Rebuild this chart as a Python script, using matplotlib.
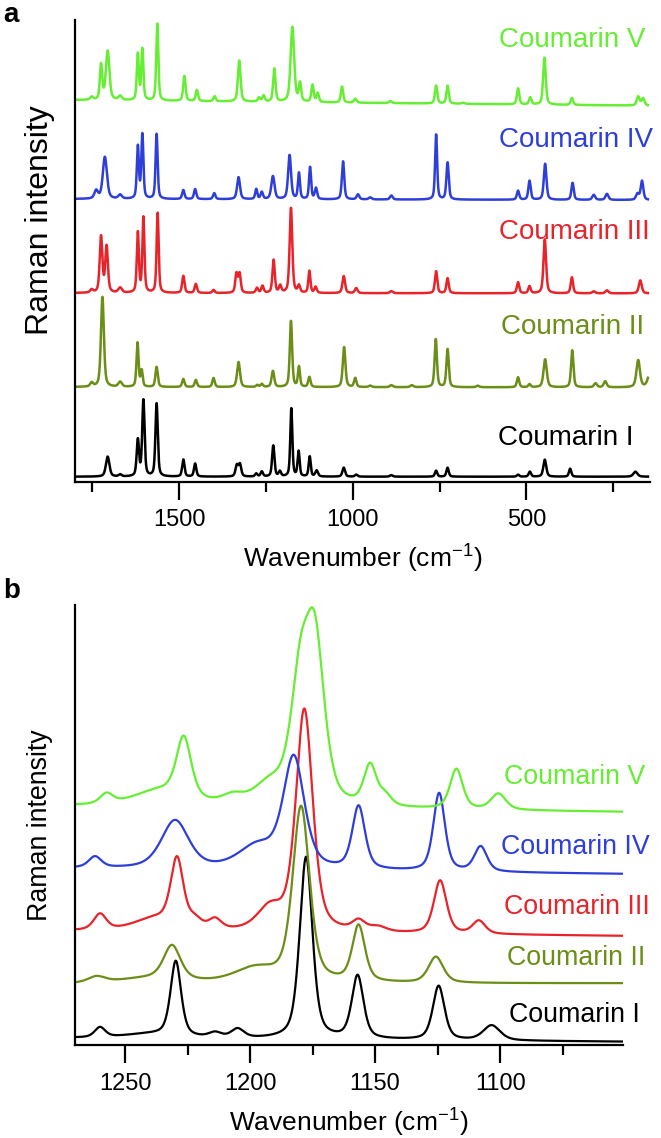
import numpy as np
import matplotlib
matplotlib.use("Agg")
import matplotlib.pyplot as plt
from matplotlib.ticker import MultipleLocator

plt.rcParams['font.family'] = ['Liberation Sans', 'DejaVu Sans']
plt.rcParams['mathtext.fontset'] = 'custom'
plt.rcParams['mathtext.rm'] = 'Liberation Sans'
plt.rcParams['mathtext.it'] = 'Liberation Sans'
plt.rcParams['mathtext.default'] = 'regular'

# ---------------- data ----------------
names = ["Coumarin I", "Coumarin II", "Coumarin III", "Coumarin IV", "Coumarin V"]
colors = ["#000000", "#6B8E16", "#E8232A", "#2E3FD9", "#66EE33"]

# panel a: baselines (left, right) and peaks (position cm-1, height, fwhm cm-1)
a_base = [(5, 5), (94.7, 94.3), (188.7, 188.3), (282.7, 281.7), (381.7, 376)]

a_peaks_I = [(1706, 20, 12), (1670, 2, 10), (1619, 36, 8), (1603, 76, 8), (1565, 73, 8),
             (1488, 17, 8), (1454, 13, 8), (1334, 11, 9), (1325, 12, 9), (1278, 3, 8),
             (1262, 5, 8), (1229, 31, 8), (1210, 5, 8), (1177, 68, 7), (1156, 25, 7),
             (1124, 20, 7), (1104, 6, 9), (1026, 9, 9), (990, 2, 9), (889, 1.5, 10),
             (760, 6, 8), (727, 9, 8), (524, 2, 8), (490, 5, 8), (447, 17, 10),
             (374, 8, 8), (186, 5, 14)]
a_peaks_II = [(1752, 4, 10), (1721, 90, 10), (1670, 5, 12), (1620, 44, 7), (1608, 16, 7),
              (1565, 20, 8), (1488, 8, 8), (1452, 7, 8), (1401, 9, 8), (1329, 25, 10),
              (1275, 2, 8), (1262, 3, 8), (1230, 16, 9), (1178, 66, 8), (1155, 20, 7),
              (1125, 10, 8), (1025, 40, 9), (993, 9, 8), (950, 1.5, 10), (889, 2, 10),
              (830, 2, 10), (761, 48, 8), (727, 38, 8), (640, 1.5, 10), (524, 10, 8),
              (491, 3, 8), (446, 28, 11), (368, 37, 8), (301, 4, 10), (273, 6, 10),
              (178, 27, 12), (142, 18, 16)]
a_peaks_III = [(1752, 3, 10), (1725, 56, 9), (1709, 46, 9), (1670, 5, 12), (1619, 60, 7),
               (1603, 75, 7), (1562, 80, 7), (1488, 17, 8), (1452, 9, 8), (1401, 3, 8),
               (1335, 19, 8), (1326, 19, 8), (1276, 5, 8), (1260, 7, 8), (1228, 33, 8),
               (1209, 7, 8), (1178, 85, 9), (1155, 7, 8), (1125, 22, 7), (1107, 6, 8),
               (1026, 17, 9), (990, 5, 9), (889, 2, 10), (760, 22, 8), (727, 15, 8),
               (524, 11, 8), (491, 7, 8), (447, 54, 9), (369, 16, 8), (306, 2, 10),
               (268, 3, 10), (172, 13, 10)]
a_peaks_IV = [(1739, 8, 12), (1714, 42, 14), (1670, 4, 12), (1619, 52, 7), (1606, 64, 7),
              (1565, 65, 7), (1488, 9, 8), (1454, 10, 8), (1399, 6, 8), (1329, 22, 10),
              (1278, 10, 7), (1262, 7, 8), (1230, 23, 11), (1182, 44, 10), (1155, 26, 7),
              (1123, 32, 7), (1106, 11, 8), (1028, 38, 8), (985, 5, 9), (950, 2, 10),
              (889, 4, 9), (760, 65, 7), (727, 37, 8), (524, 9, 8), (491, 19, 8),
              (446, 36, 9), (367, 17, 8), (306, 5, 10), (268, 6, 10), (180, 6, 10),
              (167, 19, 9)]
a_peaks_V = [(1752, 3, 10), (1725, 35, 8), (1706, 49, 12), (1670, 4, 12), (1619, 46, 7),
             (1606, 51, 7), (1563, 77, 7), (1485, 25, 8), (1449, 11, 8), (1398, 5, 8),
             (1327, 41, 9), (1270, 4, 8), (1257, 6, 8), (1226, 33, 8), (1174, 75, 12),
             (1152, 18, 8), (1116, 17, 8), (1101, 9, 8), (1031, 16, 8), (993, 4, 9),
             (892, 2, 10), (760, 18, 8), (727, 18, 8), (683, 1, 10), (524, 16, 8),
             (489, 7, 8), (448, 47, 9), (369, 7, 8), (178, 9, 10), (164, 7, 10)]
a_peaks = [a_peaks_I, a_peaks_II, a_peaks_III, a_peaks_IV, a_peaks_V]

# panel b: baselines (left, right) and peaks
b_base = [(7, 3.3), (61, 61.7), (114, 109), (176.7, 171), (239, 233)]

b_peaks_I = [(1260, 10, 5), (1240, 4, 25), (1229.7, 75, 5), (1214, 5, 6), (1205, 9, 6),
             (1177.6, 182, 6), (1157, 63, 5.5), (1124.6, 54, 5.5), (1103.4, 15, 8)]
b_peaks_II = [(1261.4, 6, 8), (1240, 5, 30), (1231.2, 34, 8), (1198, 14, 20),
              (1179.6, 175, 8), (1156.6, 56, 6), (1125.7, 26, 7)]
b_peaks_III = [(1260, 16, 6), (1238, 12, 20), (1229.2, 67, 6), (1222, 8, 6), (1214, 10, 6),
               (1192, 22, 12), (1178.3, 222, 8), (1156.6, 10, 6), (1149, 5, 8),
               (1124, 53, 6), (1108.5, 13, 6)]
b_peaks_IV = [(1262, 11, 6), (1230, 48, 13), (1197, 22, 18), (1182.5, 110, 10),
              (1156.6, 63, 6), (1124.4, 78, 5.5), (1107.8, 25, 6)]
b_peaks_V = [(1257.4, 10, 6), (1236, 15, 25), (1226.5, 60, 7), (1207, 8, 10), (1192, 20, 15),
             (1180, 113, 9), (1174, 155, 9), (1152, 40, 6), (1146, 10, 6),
             (1117.5, 40, 6), (1100.7, 16, 7)]
b_peaks = [b_peaks_I, b_peaks_II, b_peaks_III, b_peaks_IV, b_peaks_V]

a_range = (1800, 150)
b_range = (1270, 1051)


def spectrum(x, peaks, base, x0, x1, eta=0.5):
    y = base[0] + (base[1] - base[0]) * (x - x0) / (x1 - x0)
    for p, h, w in peaks:
        d = (x - p) / (w / 2.0)
        lor = 1.0 / (1.0 + d ** 2)
        gau = np.exp(-np.log(2) * d ** 2)
        y = y + h * (eta * lor + (1 - eta) * gau)
    return y


W, H = 661, 1138
fig = plt.figure(figsize=(W / 100, H / 100), dpi=100)


def fx(px):
    return px / W


def fy(py):
    return 1 - py / H


ax_a = fig.add_axes([fx(75), fy(481.7), fx(650 - 75), (481.7 - 20) / H])
ax_b = fig.add_axes([fx(75), fy(1045), fx(622.7 - 75), (1045 - 605) / H])

xa = np.linspace(a_range[0], a_range[1], 6000)
xb = np.linspace(b_range[0], b_range[1], 3000)
for i in range(5):
    ax_a.plot(xa, spectrum(xa, a_peaks[i], a_base[i], a_range[0], a_range[1]),
              color=colors[i], lw=1.8)
    ax_b.plot(xb, spectrum(xb, b_peaks[i], b_base[i], b_range[0], b_range[1]),
              color=colors[i], lw=1.6)

ax_a.set_xlim(1800, 144)
ax_a.set_ylim(0, 461.7)
ax_b.set_xlim(1270, 1051)
ax_b.set_ylim(0, 440)

ax_a.xaxis.set_major_locator(MultipleLocator(500))
ax_a.xaxis.set_minor_locator(MultipleLocator(250))
ax_b.xaxis.set_major_locator(MultipleLocator(50))
ax_b.xaxis.set_minor_locator(MultipleLocator(25))

for ax, lp in ((ax_a, 8), (ax_b, 9)):
    for s in ("top", "right"):
        ax.spines[s].set_visible(False)
    for s in ("left", "bottom"):
        ax.spines[s].set_linewidth(1.6)
    ax.set_yticks([])
    ax.tick_params(axis="x", which="major", length=13, width=1.6, labelsize=17, pad=7)
    ax.tick_params(axis="x", which="minor", length=7, width=1.6)
    ax.set_xlabel("Wavenumber (cm$^{-1}$)", fontsize=19, labelpad=lp)

# labels
a_lab = [(633, 438), (644, 327), (650, 232), (653, 140), (645, 40)]
b_lab = [(640, 1015), (645, 958.3), (650, 906.7), (650, 846.7), (645, 776.7)]
for i in range(5):
    fig.text(fx(a_lab[i][0]), fy(a_lab[i][1]), names[i], color=colors[i], fontsize=20,
             ha="right", va="center")
    fig.text(fx(b_lab[i][0]), fy(b_lab[i][1]), names[i], color=colors[i], fontsize=19.3,
             ha="right", va="center")

fig.text(fx(40), fy(220), "Raman intensity", rotation=90, fontsize=23, ha="center", va="center")
fig.text(fx(40), fy(825), "Raman intensity", rotation=90, fontsize=19.3, ha="center", va="center")
fig.text(fx(3), fy(2), "a", fontsize=20, fontweight="bold", ha="left", va="top")
fig.text(fx(3), fy(578), "b", fontsize=20, fontweight="bold", ha="left", va="top")

fig.savefig("out.png", dpi=100)
